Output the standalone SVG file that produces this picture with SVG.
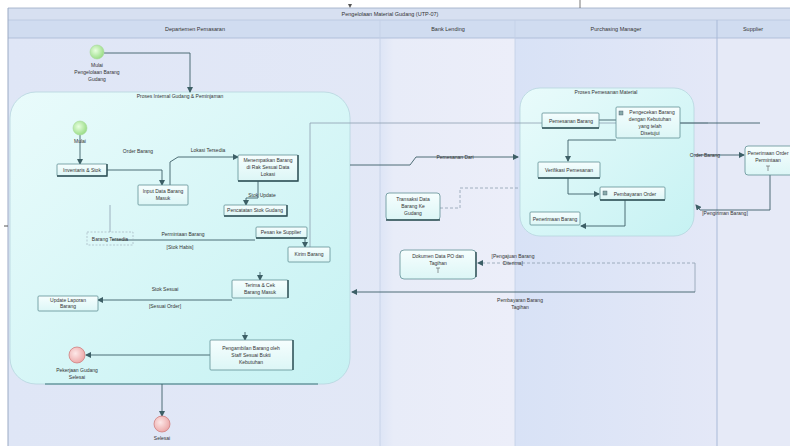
<svg xmlns="http://www.w3.org/2000/svg" width="790" height="446" viewBox="0 0 790 446">
<defs>
<linearGradient id="lane" x1="0" y1="0" x2="1" y2="0"><stop offset="0" stop-color="#dfe6f6"/><stop offset="1" stop-color="#e6eaf7"/></linearGradient>
<linearGradient id="lane2" x1="0" y1="0" x2="1" y2="0"><stop offset="0" stop-color="#dde5f6"/><stop offset="0.1" stop-color="#e8ecf8"/><stop offset="1" stop-color="#eceef9"/></linearGradient>
<linearGradient id="lane3" x1="0" y1="0" x2="1" y2="0"><stop offset="0" stop-color="#d8e2f6"/><stop offset="1" stop-color="#e4e8f7"/></linearGradient>
<linearGradient id="cont" x1="0" y1="0" x2="1" y2="1"><stop offset="0" stop-color="#e9fbfb"/><stop offset="1" stop-color="#c6f2f3"/></linearGradient>
<linearGradient id="box" x1="0" y1="0" x2="0" y2="1"><stop offset="0" stop-color="#f6fefe"/><stop offset="1" stop-color="#dcf6f6"/></linearGradient>
<radialGradient id="green" cx="0.4" cy="0.4" r="0.7"><stop offset="0" stop-color="#e8ffe0"/><stop offset="1" stop-color="#8fd87a"/></radialGradient>
<radialGradient id="red" cx="0.4" cy="0.4" r="0.7"><stop offset="0" stop-color="#fde8e8"/><stop offset="1" stop-color="#e9a0a0"/></radialGradient>
<marker id="arr" markerWidth="6" markerHeight="6" refX="5" refY="3" orient="auto" markerUnits="userSpaceOnUse"><path d="M0,0 L6,3 L0,6 z" fill="#3d5f66"/></marker>
</defs>
<style>
text{font-family:"Liberation Sans",Arial,sans-serif;font-size:5px;fill:#333;text-anchor:middle}
.hdr{font-size:5.5px}
.b{fill:url(#box);stroke:#5f8f94;stroke-width:0.8}
.c{fill:none;stroke:#3d5f66;stroke-width:0.9}
.cw{fill:none;stroke:#8d9fb0;stroke-width:0.8}
.d{fill:none;stroke:#8d9fb0;stroke-width:0.8;stroke-dasharray:3,2}
.sh{stroke:#2f4f55;stroke-width:1.4;fill:none}
</style>
<rect width="790" height="446" fill="#ffffff"/>
<rect x="8" y="8" width="782" height="438" fill="url(#lane)"/>
<rect x="380" y="20" width="135" height="426" fill="url(#lane2)"/>
<rect x="515" y="20" width="202" height="426" fill="url(#lane3)"/>
<rect x="717" y="20" width="73" height="426" fill="#e6eaf7"/>
<rect x="8" y="8" width="782" height="12" fill="#d7e0f1"/>
<rect x="8" y="20" width="782" height="18" fill="#d0dcf0"/>
<line x1="8" y1="20" x2="790" y2="20" stroke="#b8c6de" stroke-width="0.8"/>
<line x1="8" y1="38" x2="790" y2="38" stroke="#a8b8d4" stroke-width="0.8"/>
<line x1="380" y1="20" x2="380" y2="446" stroke="#c3cfe6" stroke-width="0.8"/>
<line x1="515" y1="20" x2="515" y2="446" stroke="#c3cfe6" stroke-width="0.8"/>
<line x1="717" y1="20" x2="717" y2="446" stroke="#a9bad8" stroke-width="1"/>
<line x1="8" y1="8" x2="8" y2="446" stroke="#9aa9c4" stroke-width="1"/>
<line x1="8" y1="8" x2="790" y2="8" stroke="#9aa9c4" stroke-width="0.8"/>
<path d="M348,4 L352,4 L350,8 z" fill="#555"/>
<line x1="580" y1="0" x2="580" y2="8" stroke="#555" stroke-width="0.8"/>
<line x1="4" y1="226" x2="8" y2="226" stroke="#555" stroke-width="1"/>
<text x="390" y="16" class="hdr">Pengelolaan Material Gudang (UTP-07)</text>
<text x="195" y="31" class="hdr">Departemen Pemasaran</text>
<text x="448" y="31" class="hdr">Bank Lending</text>
<text x="616" y="31" class="hdr">Purchasing Manager</text>
<text x="753" y="31" class="hdr">Supplier</text>

<g id="proses-gudang">
<rect x="10" y="92" width="340" height="292" rx="26" fill="url(#cont)" stroke="#b6d6de" stroke-width="0.8"/>
<line x1="45" y1="384" x2="318" y2="384" stroke="#6a9aa0" stroke-width="1.4"/>
<text x="180" y="98">Proses Internal Gudang &amp; Peminjaman</text>
</g>
<g id="proses-pemesanan">
<rect x="520" y="88" width="174" height="148" rx="20" fill="url(#cont)" stroke="#b6d6de" stroke-width="0.8"/>
<text x="606" y="94">Proses Pemesanan Material</text>
</g>

<g id="connectors">
<path class="c" d="M104,53 L190,53 L190,92" marker-end="url(#arr)"/>
<path class="c" d="M80,135 L80,164" marker-end="url(#arr)"/>
<path class="c" d="M107,170 L130,170 L162,170 L162,185" marker-end="url(#arr)"/>
<path class="c" d="M170,185 L170,162 L178,157 L238,157" marker-end="url(#arr)"/>
<path class="c" d="M258,181 L258,198 L246,198 L246,205" marker-end="url(#arr)"/>
<path class="c" d="M255,240 L112,240"/>
<path class="cw" d="M110,232 L110,205"/>
<path class="c" d="M305,238 L305,247" marker-end="url(#arr)"/>
<path class="c" d="M232,300 L98,300" marker-end="url(#arr)"/>
<path class="c" d="M260,272 L260,280" marker-end="url(#arr)"/>
<path class="c" d="M210,355 L86,355" marker-end="url(#arr)"/>
<path class="c" d="M245,332 L245,340" marker-end="url(#arr)"/>
<path class="c" d="M162,384 L162,416" marker-end="url(#arr)"/>
<path class="cw" d="M310,247 L310,123 L708,123"/>
<path class="c" d="M350,165 L410,165 L416,157 L518,157" marker-end="url(#arr)"/>
<path class="d" d="M440,208 L460,208 L460,188 L520,188"/>
<path class="c" d="M680,123 L760,123"/>
<path class="c" d="M599,120 L616,120"/>
<path class="c" d="M695,155 L744,155" marker-end="url(#arr)"/>
<path class="c" d="M770,175 L770,210 L700,210 L696,205" marker-end="url(#arr)"/>
<path class="d" d="M695,263 L478,263" marker-end="url(#arr)"/>
<path class="cw" d="M695,263 L695,292"/>
<path class="c" d="M695,292 L352,292" marker-end="url(#arr)"/>
<path class="c" d="M616,140 L568,140 L568,161" marker-end="url(#arr)"/>
<path class="c" d="M568,178 L568,194 L599,194" marker-end="url(#arr)"/>
<path class="c" d="M625,200 L625,226 L581,226" marker-end="url(#arr)"/>
</g>

<g id="start">
<circle cx="97" cy="52" r="7" fill="url(#green)" stroke="#a8d89a" stroke-width="0.6"/>
<text x="97" y="67">Mulai</text>
<text x="97" y="74">Pengelolaan Barang</text>
<text x="97" y="81">Gudang</text>
</g>
<g id="mulai-internal">
<circle cx="80" cy="128" r="7" fill="url(#green)" stroke="#a8d89a" stroke-width="0.6"/>
<text x="80" y="143">Mulai</text>
</g>
<g id="identifikasi"><rect class="b" x="57" y="164" width="50" height="12" rx="1"/><path class="sh" d="M57,176 L107,176 L107,164"/><text x="82" y="172">Inventaris &amp; Stok</text></g>
<text x="138" y="153">Order Barang</text>
<g id="input-data"><rect class="b" x="138" y="185" width="50" height="20" rx="1"/><text x="163" y="193">Input Data Barang</text><text x="163" y="200">Masuk</text></g>
<text x="208" y="152">Lokasi Tersedia</text>
<g id="tempatkan"><rect class="b" x="238" y="155" width="60" height="26" rx="1"/><path class="sh" d="M238,181 L298,181 L298,155"/><text x="268" y="162">Menempatkan Barang</text><text x="268" y="169">di Rak Sesuai Data</text><text x="268" y="176">Lokasi</text></g>
<text x="262" y="197">Stok Update</text>
<g id="pencatatan"><rect class="b" x="224" y="205" width="63" height="11" rx="1"/><path class="sh" d="M224,216 L287,216 L287,205"/><text x="255" y="212">Pencatatan Stok Gudang</text></g>
<g id="barang-tersedia"><rect x="87" y="232" width="46" height="13" fill="none" stroke="#9aaab5" stroke-width="0.6" stroke-dasharray="2,1.5"/><text x="110" y="241">Barang Tersedia</text></g>
<text x="183" y="236">Permintaan Barang</text>
<text x="180" y="249">[Stok Habis]</text>
<g id="pesan"><rect class="b" x="256" y="227" width="51" height="11" rx="1"/><path class="sh" d="M256,238 L307,238"/><text x="281" y="234">Pesan ke Supplier</text></g>
<g id="kirim"><rect class="b" x="288" y="247" width="42" height="15" rx="1"/><text x="309" y="256">Kirim Barang</text></g>
<g id="terima"><rect class="b" x="232" y="280" width="56" height="18" rx="1"/><path class="sh" d="M288,280 L288,298"/><text x="260" y="287">Terima &amp; Cek</text><text x="260" y="294">Barang Masuk</text></g>
<text x="165" y="291">Stok Sesuai</text>
<text x="165" y="308">[Sesuai Order]</text>
<g id="update-laporan"><rect class="b" x="38" y="296" width="60" height="15" rx="1"/><text x="68" y="302">Update Laporan</text><text x="68" y="308">Barang</text></g>
<g id="pengambilan"><rect class="b" x="210" y="340" width="83" height="30" rx="1"/><path class="sh" d="M293,340 L293,370"/><text x="251" y="350">Pengambilan Barang oleh</text><text x="251" y="357">Staff Sesuai Bukti</text><text x="251" y="364">Kebutuhan</text></g>
<g id="selesai-internal">
<circle cx="77" cy="355" r="8" fill="url(#red)" stroke="#d08080" stroke-width="0.8"/>
<text x="77" y="372">Pekerjaan Gudang</text>
<text x="77" y="379">Selesai</text>
</g>
<g id="selesai">
<circle cx="162" cy="424" r="8" fill="url(#red)" stroke="#d08080" stroke-width="0.8"/>
<text x="162" y="440">Selesai</text>
</g>

<text x="455" y="159">Pemesanan Dari</text>
<g id="transaksi"><rect class="b" x="386" y="193" width="54" height="27" rx="3"/><path class="sh" d="M386,220 L440,220"/><text x="413" y="201">Transaksi Data</text><text x="413" y="208">Barang Ke</text><text x="413" y="215">Gudang</text></g>
<g id="dokumen"><rect class="b" x="400" y="250" width="76" height="29" rx="4"/><path class="sh" d="M476,252 L476,277"/><text x="438" y="258">Dokumen Data PO dan</text><text x="438" y="265">Tagihan</text><path d="M436,268 L440,268 M438,268 L438,273" stroke="#555" stroke-width="0.6"/></g>
<text x="513" y="258">[Pengajuan Barang</text>
<text x="513" y="265">Diterima]</text>
<text x="520" y="302">Pembayaran Barang</text>
<text x="520" y="309">Tagihan</text>

<g id="pemesanan-barang"><rect class="b" x="542" y="113" width="57" height="15" rx="1"/><path class="sh" d="M542,128 L599,128"/><text x="571" y="123">Pemesanan Barang</text></g>
<g id="pengecekan"><rect class="b" x="616" y="107" width="64" height="31" rx="1"/><rect x="619" y="111" width="4" height="4" fill="#8aa" stroke="#456" stroke-width="0.4"/><text x="652" y="114">Pengecekan Barang</text><text x="650" y="121">dengan Kebutuhan</text><text x="650" y="128">yang telah</text><text x="650" y="135">Disetujui</text></g>
<g id="verifikasi"><rect class="b" x="538" y="162" width="62" height="16" rx="1"/><path class="sh" d="M538,178 L600,178"/><text x="569" y="172">Verifikasi Pemesanan</text></g>
<g id="pembayaran"><rect class="b" x="600" y="187" width="65" height="13" rx="1"/><rect x="603" y="191" width="4" height="4" fill="#8aa" stroke="#456" stroke-width="0.4"/><path class="sh" d="M600,200 L665,200"/><text x="635" y="196">Pembayaran Order</text></g>
<g id="penerimaan"><rect class="b" x="530" y="212" width="50" height="13" rx="1"/><text x="555" y="221">Penerimaan Barang</text></g>
<text x="705" y="157">Order Barang</text>
<text x="725" y="215">[Pengiriman Barang]</text>
<g id="supplier-order"><rect class="b" x="745" y="146" width="50" height="29" rx="3"/><text x="768" y="155">Penerimaan Order</text><text x="768" y="162">Permintaan</text><path d="M766,166 L770,166 M768,166 L768,171" stroke="#555" stroke-width="0.6"/></g>
</svg>
